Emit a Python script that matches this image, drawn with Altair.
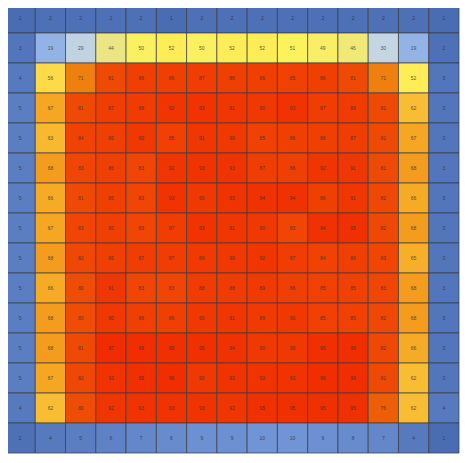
import altair as alt
import pandas as pd

row0 = [1, 2, 2, 2, 2, 1, 2, 2, 2, 2, 2, 2, 2, 2, 1]
row1 = [3, 19, 29, 44, 50, 52, 50, 52, 52, 51, 49, 46, 30, 19, 2]
row2 = [4, 56, 71, 81, 86, 86, 87, 86, 86, 85, 86, 81, 71, 52, 3]
row3 = [5, 67, 81, 87, 88, 92, 93, 91, 90, 93, 87, 88, 81, 62, 3]
row4 = [5, 63, 84, 86, 90, 85, 91, 90, 85, 86, 86, 87, 81, 67, 3]
row5 = [5, 68, 83, 86, 83, 92, 93, 93, 87, 86, 92, 91, 81, 68, 3]
row6 = [5, 66, 81, 86, 83, 93, 90, 93, 94, 94, 86, 91, 82, 66, 3]
row7 = [5, 67, 83, 86, 83, 87, 93, 91, 90, 83, 94, 95, 82, 68, 3]
row8 = [5, 68, 82, 86, 87, 87, 89, 90, 92, 87, 84, 86, 83, 65, 3]
row9 = [5, 66, 80, 91, 83, 83, 88, 88, 89, 86, 85, 85, 83, 68, 3]
row10 = [5, 68, 80, 90, 86, 86, 90, 91, 89, 90, 85, 85, 82, 68, 3]
row11 = [5, 68, 81, 97, 96, 95, 95, 94, 90, 90, 95, 96, 82, 66, 3]
row12 = [5, 67, 82, 93, 95, 96, 90, 93, 93, 93, 96, 96, 81, 62, 3]
row13 = [4, 62, 80, 92, 93, 93, 93, 92, 95, 95, 95, 95, 76, 62, 4]
row14 = [2, 4, 5, 6, 7, 8, 9, 9, 10, 10, 9, 8, 7, 4, 1]

rows = [row0, row1, row2, row3, row4, row5, row6, row7, row8, row9,
        row10, row11, row12, row13, row14]

records = []
for r, vals in enumerate(rows):
    for c, v in enumerate(vals):
        records.append({"row": r, "col": c, "value": v})
df = pd.DataFrame(records)

color_domain = [1, 10, 19, 30, 45, 51, 58, 67, 72, 78, 84, 96]
color_range = ['#4a6cb3', '#7094d5', '#93b3e6', '#c5d6e3', '#eee77c', '#fef25a',
               '#fcd040', '#f5a623', '#ee760a', '#ee5206', '#f04204', '#f02e00']

base = alt.Chart(df).encode(
    x=alt.X("col:O", axis=None, scale=alt.Scale(paddingInner=0, paddingOuter=0)),
    y=alt.Y("row:O", axis=None, scale=alt.Scale(paddingInner=0, paddingOuter=0)),
)

rects = base.mark_rect(stroke="#3a3a3a", strokeWidth=1, strokeOpacity=0.7).encode(
    color=alt.Color("value:Q", legend=None,
                    scale=alt.Scale(domain=color_domain, range=color_range,
                                    interpolate="rgb")),
)

texts = base.mark_text(fontSize=5, color="#333333", opacity=0.8).encode(
    text="value:Q"
)

chart = (rects + texts).properties(
    width=458, height=454, padding={"left": -4, "top": -8, "right": 0, "bottom": 0}
).configure_view(stroke=None)

chart.save("out.html", embed_options={"renderer": "svg", "actions": False})
